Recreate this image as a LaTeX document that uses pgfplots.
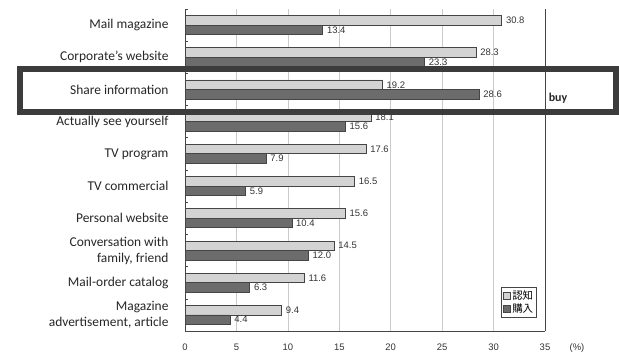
\documentclass[border=0pt]{standalone}
\usepackage{pgfplots}
\pgfplotsset{compat=1.18}
\usepackage{fontspec}
\setmainfont{Carlito}
\newfontfamily\arialf{Liberation Sans}
\newfontfamily\cjk{Noto Sans CJK JP}

\definecolor{lightbar}{HTML}{D3D3D3}
\definecolor{darkbar}{HTML}{6C6C6C}
\definecolor{edge}{HTML}{454545}
\definecolor{gridc}{HTML}{CACACA}
\definecolor{boxc}{HTML}{3C3C3C}

% y = 9 is the top category, y = 0 the bottom one
\pgfplotstableread{
y  recog  buy
9  30.8   13.4
8  28.3   23.3
7  19.2   28.6
6  18.1   15.6
5  17.6   7.9
4  16.5   5.9
3  15.6   10.4
2  14.5   12.0
1  11.6   6.3
0  9.4    4.4
}\datatable

\begin{document}
\begin{tikzpicture}[x=1bp,y=1bp]
\useasboundingbox (0,0) rectangle (619,354);
\begin{axis}[
  at={(185bp,23bp)}, anchor=south west,
  scale only axis, width=360bp, height=322bp,
  xbar, bar width=9.5bp,
  xmin=0, xmax=35, ymin=-0.5, ymax=9.5,
  axis x line*=bottom, axis y line*=left,
  axis line style={draw=edge, line width=1bp},
  xtick={0,5,...,30},
  extra x ticks={35}, extra x tick labels={35},
  extra x tick style={grid style={draw=edge, line width=0.9bp}},
  xmajorgrids, grid style={draw=gridc, line width=0.6bp},
  ytick={0,...,9},
  yticklabels={{Magazine\\advertisement, article},
    Mail-order catalog,
    {Conversation with\\family, friend},
    Personal website, TV commercial, TV program,
    Actually see yourself, Share information,
    Corporate’s website, Mail magazine},
  minor ytick={-0.5,0.5,...,9.5},
  major tick length=0pt, minor tick length=3bp, tick align=inside,
  minor tick style={draw=edge, line width=0.6bp},
  yticklabel style={align=right, font=\fontsize{13.5}{16}\selectfont,
    text=black!85, xshift=-13bp},
  xticklabel style={font=\arialf\fontsize{9.5}{11}\selectfont,
    text=black!80, yshift=-9bp},
  /pgf/number format/assume math mode=true,
  nodes near coords={\pgfmathprintnumber[fixed,fixed zerofill,precision=1]{\pgfplotspointmeta}},
  nodes near coords align={horizontal},
  every node near coord/.append style={font=\arialf\fontsize{9.5}{11}\selectfont,
    text=black!80, xshift=0.5bp},
  legend style={at={(0.978,0.04)}, anchor=south east, draw=edge,
    line width=0.8bp, font=\cjk\fontsize{10.5}{12}\selectfont,
    inner sep=1.5bp, row sep=-1bp, legend cell align=left},
  legend image code/.code={\draw[#1, line width=0.6bp] (0bp,-3.5bp) rectangle (7bp,3.5bp);},
]
\addplot[fill=lightbar, draw=edge, line width=0.8bp, bar shift=4.75bp]
  table[x=recog, y=y] {\datatable};
\addplot[fill=darkbar, draw=edge, line width=0.8bp, bar shift=-4.75bp]
  table[x=buy, y=y] {\datatable};
\legend{認知, 購入}
\end{axis}
% percent unit after the last tick
\node[font=\arialf\fontsize{9.5}{11}\selectfont, text=black!80] at (577,6) {(\%)};
% emphasis frame around the third category
\draw[boxc, line width=6bp] (19.5,242.5) rectangle (616,285.5);
\node[font=\bfseries\fontsize{12}{14}\selectfont, text=black!85] at (558,256) {buy};
\end{tikzpicture}
\end{document}
